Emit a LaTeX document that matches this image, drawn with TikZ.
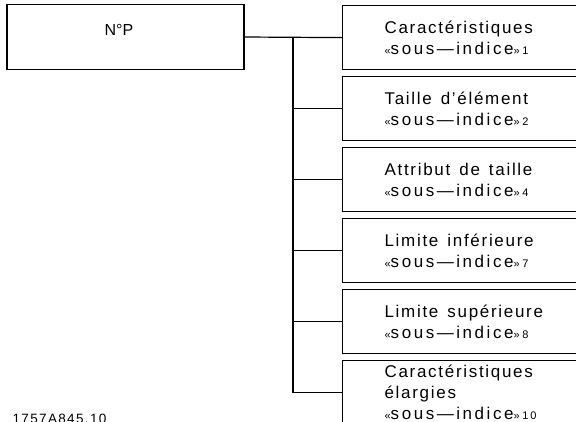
\documentclass[tikz,border=0pt]{standalone}
\usepackage{fontspec}
\setmainfont{Liberation Sans}[LetterSpace=10]
\usetikzlibrary{positioning}
\newcommand\guil[1]{{\fontsize{11}{12}\selectfont #1}}
\newcommand\subidx[1]{{\addfontfeature{LetterSpace=15}\guil{«}sous—indice\guil{»}\,{\fontsize{11}{12}\selectfont #1}}}
\newcommand\wordgap{\spaceskip=9pt\relax}

\begin{document}
\begin{tikzpicture}[x=1pt,y=-1pt,
                    node distance=5.8pt,
                    line width=1.2pt,
                    main node/.style={draw,minimum width=237pt,minimum height=65pt,
                      font=\fontsize{16}{21}\selectfont\addfontfeature{LetterSpace=0},
                      text height=12pt,text depth=16pt},
                    sub node/.style={draw,minimum width=254pt,minimum height=64pt,
                      text width=170pt,align=left,font=\fontsize{17}{21}\selectfont,
                      execute at begin node=\wordgap}]
  \useasboundingbox (0,0) rectangle (576,421);
  \clip (0,0) rectangle (576,421);

        \node[main node] (np) at (125.5,37) {\hspace*{-13pt}N°P};
        \node[sub node,anchor=north west] (c1) at (342,5) {Caractéristiques\\ \subidx{1}};
        \node[sub node] (c2) [below=of c1] {Taille d'élément\\ \subidx{2}};
        \node[sub node] (c3) [below=of c2] {Attribut de taille\\ \subidx{4}};
        \node[sub node] (c4) [below=of c3] {Limite inférieure\\ \subidx{7}};
        \node[sub node] (c5) [below=of c4] {Limite supérieure\\ \subidx{8}};
        \node[sub node] (c6) [below=of c5] {Caractéristiques\\ élargies\\ \subidx{10}};
        \node[anchor=base west,inner sep=0pt,font=\fontsize{13.5}{14}\selectfont] (ref) at (12,423) {1757A845.10};

        \coordinate (spine) at (293,37);
        \draw (np.east) -- (c1.west);
        \draw (spine) -- (spine |- c6.west);
        \foreach \n in {2,...,6}
          \draw (spine |- c\n.west) -- (c\n.west);
\end{tikzpicture}
\end{document}
